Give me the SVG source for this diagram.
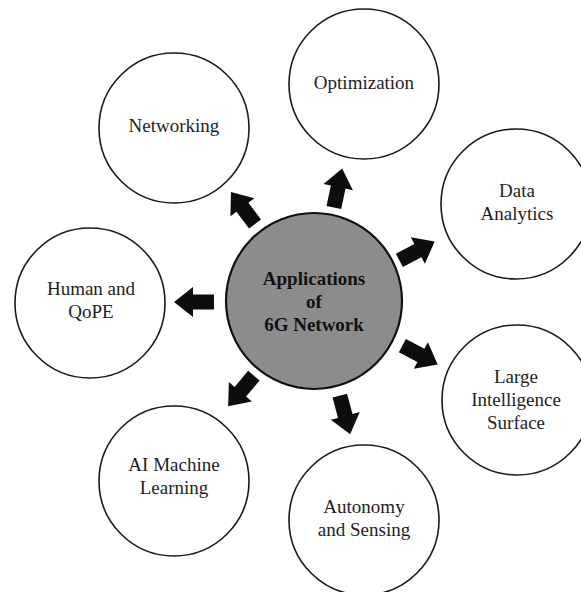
<svg xmlns="http://www.w3.org/2000/svg" width="581" height="592" viewBox="0 0 581 592">
<defs>
<style>
.node{fill:#ffffff;stroke:#1a1a1a;stroke-width:1.6}
.hub{fill:#8c8c8c;stroke:#111111;stroke-width:2.2}
.lbl{font-family:"Liberation Serif","Times New Roman",serif;font-size:19px;fill:#1e1e1e;text-anchor:middle}
.hlbl{font-family:"Liberation Serif","Times New Roman",serif;font-size:19px;font-weight:bold;fill:#111111;text-anchor:middle}
.arr{fill:#0d0d0d}
</style>
<path id="arrow" d="M-20,-7.5 L1,-7.5 L1,-15 L20,0 L1,15 L1,7.5 L-20,7.5 Z"/>
</defs>
<rect width="581" height="592" fill="#ffffff"/>
<g id="connectors" class="arr">
<use href="#arrow" transform="translate(338,188) rotate(-78)"/>
<use href="#arrow" transform="translate(243,208) rotate(-127)"/>
<use href="#arrow" transform="translate(417,251) rotate(-28)"/>
<use href="#arrow" transform="translate(194,302) rotate(180)"/>
<use href="#arrow" transform="translate(420,355) rotate(28)"/>
<use href="#arrow" transform="translate(241,391) rotate(130)"/>
<use href="#arrow" transform="translate(345,415) rotate(75)"/>
</g>
<g id="hub">
<circle class="hub" cx="314" cy="301" r="88"/>
<text class="hlbl" x="314" y="285">Applications</text>
<text class="hlbl" x="314" y="308">of</text>
<text class="hlbl" x="314" y="331">6G Network</text>
</g>
<g id="optimization">
<circle class="node" cx="364" cy="84" r="75"/>
<text class="lbl" x="364" y="89">Optimization</text>
</g>
<g id="networking">
<circle class="node" cx="174" cy="128" r="75"/>
<text class="lbl" x="174" y="132">Networking</text>
</g>
<g id="data-analytics">
<circle class="node" cx="516" cy="204" r="75"/>
<text class="lbl" x="517" y="197">Data</text>
<text class="lbl" x="517" y="220">Analytics</text>
</g>
<g id="human-qope">
<circle class="node" cx="90" cy="303" r="75"/>
<text class="lbl" x="91" y="295">Human and</text>
<text class="lbl" x="91" y="318">QoPE</text>
</g>
<g id="large-intelligence-surface">
<circle class="node" cx="517" cy="400" r="75"/>
<text class="lbl" x="516" y="383">Large</text>
<text class="lbl" x="516" y="406">Intelligence</text>
<text class="lbl" x="516" y="429">Surface</text>
</g>
<g id="ai-machine-learning">
<circle class="node" cx="174" cy="481" r="75"/>
<text class="lbl" x="174" y="471">AI Machine</text>
<text class="lbl" x="174" y="494">Learning</text>
</g>
<g id="autonomy-sensing">
<circle class="node" cx="364" cy="520" r="75"/>
<text class="lbl" x="364" y="513">Autonomy</text>
<text class="lbl" x="364" y="536">and Sensing</text>
</g>
</svg>
